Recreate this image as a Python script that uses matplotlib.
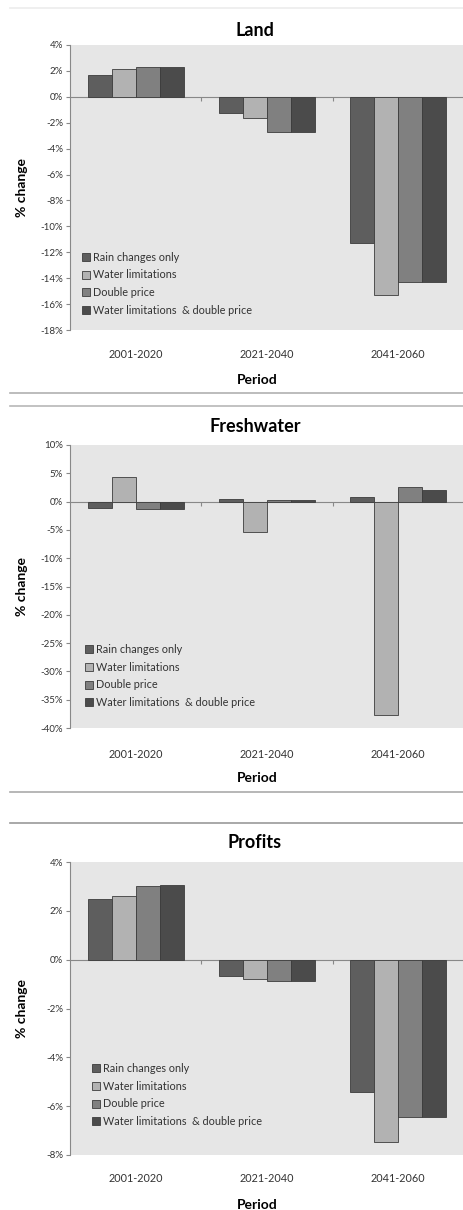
import numpy as np
import matplotlib
matplotlib.use("Agg")
import matplotlib.pyplot as plt
from matplotlib.lines import Line2D
from matplotlib.ticker import FuncFormatter

W, H = 464, 1210
DPI = 100

FONT = ["Lato", "DejaVu Sans"]
FONTSIZE_TICKS = 7
FONTSIZE_LEGEND = 7.8
FONTSIZE_TITLE = 13
FONTSIZE_LABELS = 10

periods = ["2001-2020", "2021-2040", "2041-2060"]
scenarios = ["Rain changes only", "Water limitations", "Double price",
             "Water limitations  & double price"]
colors = ["#5e5e5e", "#b2b2b2", "#808080", "#4b4b4b"]

land = [[1.7, -1.25, -11.3],
        [2.15, -1.65, -15.3],
        [2.3, -2.75, -14.3],
        [2.3, -2.75, -14.3]]
freshwater = [[-1.2, 0.4, 0.8],
              [4.4, -5.4, -37.7],
              [-1.35, 0.3, 2.5],
              [-1.35, 0.3, 2.0]]
profits = [[2.47, -0.67, -5.43],
           [2.59, -0.81, -7.46],
           [3.02, -0.89, -6.43],
           [3.04, -0.89, -6.43]]

# title, values, y range, y step, axes top/bottom px, title y, tick label y,
# "Period" y, legend anchor (axes fraction)
panels = [
    ("Land", land, (-18, 4), 2, 45, 330, 30, 349, 380, (0.03, 0.05)),
    ("Freshwater", freshwater, (-40, 10), 5, 445, 728, 427, 748, 778,
     (0.038, 0.07)),
    ("Profits", profits, (-8, 4), 2, 862, 1155, 843, 1173, 1205,
     (0.056, 0.095)),
]

plt.rcParams["font.family"] = FONT
fig = plt.figure(figsize=(W / DPI, H / DPI), dpi=DPI)

AX_LEFT, AX_RIGHT = 70, 464
BAR_W = 0.183
x = np.arange(len(periods))

for title, vals, ylim, ystep, top, bot, ty, ly, py, lanchor in panels:
    ax = fig.add_axes([AX_LEFT / W, 1 - bot / H, (AX_RIGHT - AX_LEFT) / W,
                       (bot - top) / H])
    ax.set_facecolor("#e6e6e6")
    for i, (s, c) in enumerate(zip(scenarios, colors)):
        ax.bar(x + (i - 1.5) * BAR_W, vals[i], BAR_W, color=c,
               edgecolor="#3c3c3c", linewidth=0.6, label=s, zorder=3)
    ax.set_xlim(-0.5, 2.5)
    ax.set_ylim(*ylim)
    ax.set_yticks(np.arange(ylim[0], ylim[1] + ystep, ystep))
    ax.yaxis.set_major_formatter(FuncFormatter(lambda v, p: f"{v:.0f}%"))
    ax.tick_params(axis="y", labelsize=FONTSIZE_TICKS, colors="#888888",
                   labelcolor="#333333", length=3, width=0.8, pad=2)
    for side in ["top", "right"]:
        ax.spines[side].set_visible(False)
    ax.spines["left"].set_color("#888888")
    ax.spines["left"].set_linewidth(0.8)
    # category axis crosses at zero
    ax.spines["bottom"].set_position(("data", 0))
    ax.spines["bottom"].set_color("#888888")
    ax.spines["bottom"].set_linewidth(0.8)
    ax.spines["bottom"].set_zorder(2)
    ax.set_xticks([0.5, 1.5, 2.5])
    ax.tick_params(axis="x", labelbottom=False, length=3, width=0.8,
                   colors="#888888", direction="out")
    sec = ax.secondary_xaxis("bottom")
    sec.set_xticks(x, periods)
    sec.spines["bottom"].set_visible(False)
    sec.tick_params(length=0, labelsize=FONTSIZE_TICKS + 0.8,
                    labelcolor="#333333", pad=(ly - bot) - 5)

    leg = ax.legend(loc="lower left", bbox_to_anchor=lanchor,
                    frameon=False, fontsize=FONTSIZE_LEGEND,
                    handlelength=0.75, handleheight=0.75, handletextpad=0.3,
                    labelspacing=0.62, borderaxespad=0, borderpad=0)
    for t in leg.get_texts():
        t.set_color("#333333")

    fig.text(255 / W, 1 - ty / H, title, ha="center", va="center",
             fontsize=FONTSIZE_TITLE, fontweight="bold")
    fig.text(257 / W, 1 - py / H, "Period", ha="center", va="center",
             fontsize=FONTSIZE_LABELS, fontweight="bold")
    fig.text(22 / W, 1 - (top + bot) / 2 / H, "% change", ha="center",
             va="center", rotation=90, fontsize=FONTSIZE_LABELS,
             fontweight="bold")

# separator rules between the panels
for yy, col in [(8, "#ececec"), (393, "#b0b0b0"), (406, "#b8b8b8"),
                (792, "#aaaaaa"), (823, "#999999")]:
    fig.add_artist(Line2D([10 / W, 1], [1 - yy / H, 1 - yy / H],
                          color=col, linewidth=1.2,
                          transform=fig.transFigure))

fig.savefig("out.png", dpi=DPI)
